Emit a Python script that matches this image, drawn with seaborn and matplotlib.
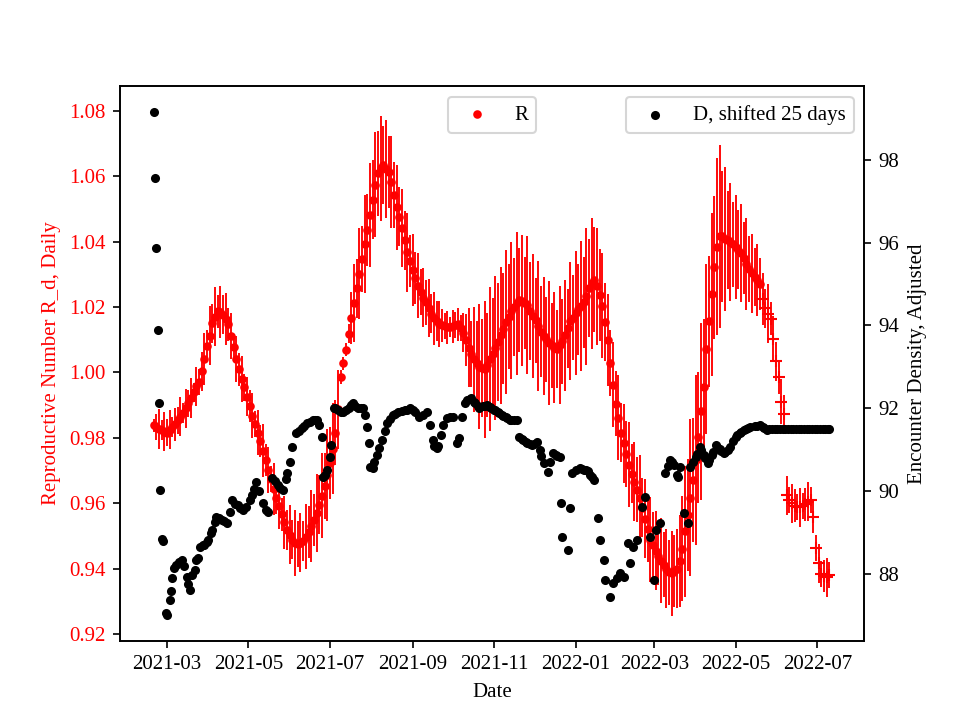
import numpy as np
import pandas as pd
import matplotlib
matplotlib.use("Agg")
import matplotlib.pyplot as plt
import matplotlib.dates as mdates
import seaborn as sns

# ---------------- data ----------------
start_date = "2021-02-19"

# Reproductive number R_d, read every 2 days from start_date
R = [0.9839, 0.9834, 0.9827, 0.9823, 0.9819, 0.9816, 0.9825, 0.9833, 0.9841, 0.9853,
     0.9864, 0.9876, 0.9890, 0.9905, 0.9922, 0.9939, 0.9957, 0.9972, 1.0003, 1.0041,
     1.0081, 1.0112, 1.0150, 1.0171, 1.0187, 1.0184, 1.0177, 1.0163, 1.0147, 1.0111,
     1.0077, 1.0040, 1.0009, 0.9981, 0.9954, 0.9926, 0.9897, 0.9868, 0.9842, 0.9816,
     0.9790, 0.9761, 0.9732, 0.9702, 0.9673, 0.9643, 0.9616, 0.9590, 0.9566, 0.9541,
     0.9518, 0.9503, 0.9488, 0.9478, 0.9475, 0.9479, 0.9484, 0.9498, 0.9512, 0.9529,
     0.9548, 0.9570, 0.9595, 0.9623, 0.9652, 0.9687, 0.9722, 0.9767, 0.9816, 0.9887,
     0.9986, 1.0028, 1.0070, 1.0119, 1.0167, 1.0212, 1.0257, 1.0302, 1.0347, 1.0392,
     1.0436, 1.0482, 1.0529, 1.0574, 1.0610, 1.0624, 1.0635, 1.0623, 1.0612, 1.0583,
     1.0543, 1.0505, 1.0477, 1.0441, 1.0404, 1.0367, 1.0340, 1.0313, 1.0289, 1.0265,
     1.0245, 1.0229, 1.0214, 1.0197, 1.0180, 1.0165, 1.0157, 1.0149, 1.0144, 1.0141,
     1.0138, 1.0139, 1.0141, 1.0144, 1.0147, 1.0135, 1.0122, 1.0099, 1.0076, 1.0056,
     1.0040, 1.0028, 1.0018, 1.0013, 1.0009, 1.0023, 1.0040, 1.0057, 1.0075, 1.0093,
     1.0113, 1.0134, 1.0153, 1.0171, 1.0189, 1.0200, 1.0211, 1.0221, 1.0219, 1.0213,
     1.0206, 1.0189, 1.0173, 1.0159, 1.0142, 1.0125, 1.0111, 1.0101, 1.0091, 1.0083,
     1.0076, 1.0071, 1.0083, 1.0096, 1.0114, 1.0135, 1.0157, 1.0168, 1.0181, 1.0193,
     1.0203, 1.0214, 1.0233, 1.0258, 1.0273, 1.0284, 1.0263, 1.0237, 1.0204, 1.0154,
     1.0099, 1.0029, 0.9963, 0.9904, 0.9862, 0.9816, 0.9783, 0.9751, 0.9718, 0.9690,
     0.9666, 0.9641, 0.9616, 0.9586, 0.9553, 0.9520, 0.9488, 0.9472, 0.9455, 0.9439,
     0.9424, 0.9412, 0.9400, 0.9388, 0.9385, 0.9393, 0.9400, 0.9423, 0.9461, 0.9514,
     0.9564, 0.9616, 0.9672, 0.9732, 0.9801, 0.9881, 0.9954, 1.0072, 1.0156, 1.0239,
     1.0321, 1.0385, 1.0416, 1.0416, 1.0407, 1.0404, 1.0400, 1.0392, 1.0384, 1.0376,
     1.0365, 1.0349, 1.0332, 1.0316, 1.0303, 1.0292, 1.0282, 1.0271, 1.0224, 1.0196,
     1.0180, 1.0164, 1.0103, 1.0034, 0.9985, 0.9911, 0.9872, 0.9624, 0.9611, 0.9600,
     0.9592, 0.9589, 0.9587, 0.9591, 0.9596, 0.9604, 0.9610, 0.9558, 0.9462, 0.9416,
     0.9384, 0.9377, 0.9373, 0.9379]

R_err = [0.002, 0.004, 0.006, 0.003, 0.006, 0.004, 0.006, 0.003, 0.005, 0.004, 0.006, 0.003, 0.006, 0.004, 0.006, 0.003, 0.006, 0.004,
         0.006, 0.008, 0.005, 0.009, 0.006, 0.009, 0.005, 0.008, 0.006, 0.008, 0.005,
         0.007, 0.004, 0.007, 0.005, 0.007, 0.004, 0.006, 0.005, 0.007, 0.004, 0.007, 0.005, 0.008, 0.005, 0.007, 0.004, 0.008, 0.005, 0.007, 0.005, 0.008, 0.006,
         0.009, 0.006, 0.010, 0.007, 0.009, 0.006, 0.010, 0.008, 0.011, 0.008,
         0.012, 0.009, 0.013, 0.010, 0.014, 0.011, 0.014, 0.010, 0.012,
         0.002, 0.002, 0.002, 0.003,
         0.008, 0.012, 0.009, 0.014, 0.010, 0.015, 0.011, 0.016, 0.012, 0.016, 0.013, 0.016, 0.012, 0.015, 0.011,
         0.014, 0.010, 0.013, 0.009, 0.012, 0.009, 0.012, 0.008, 0.011, 0.008, 0.010, 0.007, 0.009, 0.007, 0.009, 0.006, 0.008, 0.006, 0.007,
         0.005, 0.004, 0.005, 0.003, 0.005, 0.004, 0.005, 0.004, 0.006,
         0.008, 0.012, 0.010, 0.016, 0.013, 0.019, 0.015, 0.021, 0.016, 0.022, 0.017, 0.022, 0.018, 0.021, 0.017,
         0.022, 0.016, 0.021, 0.015, 0.022, 0.016, 0.020, 0.014, 0.021, 0.015, 0.019, 0.013, 0.020, 0.014, 0.018, 0.013, 0.019,
         0.013, 0.017, 0.012, 0.018, 0.013, 0.017, 0.012, 0.018, 0.013, 0.019, 0.014, 0.020, 0.014, 0.021, 0.015, 0.020, 0.016,
         0.018, 0.014, 0.016, 0.012, 0.014, 0.010, 0.013, 0.010, 0.013, 0.009, 0.012, 0.010, 0.013, 0.009, 0.012, 0.010,
         0.013, 0.009, 0.012, 0.010, 0.013, 0.010, 0.012, 0.009, 0.013, 0.010, 0.012, 0.010, 0.013, 0.011, 0.012,
         0.014, 0.016, 0.020, 0.017, 0.024, 0.019, 0.026, 0.020, 0.027, 0.021, 0.026, 0.020, 0.025, 0.022, 0.027,
         0.028, 0.020, 0.022, 0.015, 0.018, 0.013, 0.016, 0.012, 0.015, 0.011, 0.014, 0.010, 0.012, 0.009, 0.011, 0.008,
         0.008, 0.006, 0.009, 0.005, 0.007, 0.006, 0.005, 0.007, 0.006,
         0.006, 0.004, 0.006, 0.005, 0.004, 0.006, 0.004, 0.005, 0.006, 0.004, 0.005, 0.004, 0.006, 0.004, 0.005, 0.006, 0.004]

# index from which R is drawn with "+" markers
R_plus_from = 228

# Encounter density D (shifted 25 days): day offsets from start_date and values
D_day = [0, 1, 2, 3, 4, 5, 6, 7, 9, 10,
         12, 13, 14, 15, 17, 19, 21, 23, 25, 26,
         27, 29, 31, 32, 33, 35, 37, 38, 40, 41,
         43, 44, 46, 47, 49, 51, 53, 55, 57, 59,
         61, 63, 65, 67, 69, 72, 74, 75, 77, 79,
         82, 84, 86, 89, 91, 93, 95, 97, 99, 100,
         102, 104, 107, 109, 111, 113, 115, 117, 119, 121,
         122, 124, 126, 127, 128, 130, 132, 133, 135, 136,
         138, 140, 142, 144, 146, 148, 149, 151, 153, 155,
         157, 158, 160, 161, 162, 164, 165, 167, 169, 171,
         173, 175, 177, 179, 181, 183, 186, 188, 190, 192,
         194, 196, 199, 202, 205, 207, 209, 210, 212, 213,
         215, 217, 220, 222, 224, 227, 229, 231, 233, 235,
         237, 238, 240, 241, 243, 244, 247, 248, 250, 252,
         253, 255, 256, 258, 259, 261, 262, 264, 265, 267,
         268, 270, 272, 274, 276, 277, 279, 280, 282, 283,
         285, 287, 289, 290, 292, 295, 297, 299, 301, 302,
         304, 305, 306, 310, 312, 313, 316, 319, 321, 322,
         324, 325, 327, 328, 330, 333, 334, 337, 338, 342,
         344, 347, 349, 352, 355, 357, 359, 362, 366, 368,
         372, 375, 376, 379, 383, 385, 387, 388, 390, 392,
         393, 394, 397, 400, 402, 404, 406, 407, 409, 410,
         412, 413, 415, 416, 418, 419, 421, 422, 424, 425,
         427, 428, 430, 432, 434, 436, 437, 439, 440, 442,
         444, 445, 447, 450, 452, 454, 456, 457, 459, 461,
         463, 465, 467, 469, 471, 473, 475, 477, 479, 481,
         483, 485, 487, 489, 491, 493, 495, 497, 499, 501,
         503, 505, 506]

D = [99.16, 97.57, 95.86, 93.88, 92.14, 90.02, 88.84, 88.80, 87.06, 87.01,
     87.37, 87.60, 87.90, 88.14, 88.22, 88.28, 88.34, 88.20, 87.93, 87.75,
     87.61, 87.98, 88.10, 88.34, 88.40, 88.65, 88.70, 88.70, 88.78, 88.82,
     88.98, 89.06, 89.25, 89.37, 89.35, 89.30, 89.27, 89.23, 89.50, 89.78,
     89.70, 89.66, 89.60, 89.54, 89.62, 89.78, 89.90, 90.05, 90.22, 90.00,
     89.71, 89.55, 89.49, 90.31, 90.25, 90.14, 90.08, 90.02, 90.30, 90.43,
     90.70, 91.06, 91.40, 91.45, 91.52, 91.58, 91.64, 91.67, 91.71, 91.71,
     91.71, 91.60, 91.30, 90.34, 90.40, 90.51, 90.82, 91.11, 92.02, 92.00,
     91.95, 91.92, 91.90, 91.95, 92.00, 92.08, 92.12, 92.05, 92.00, 92.00,
     92.02, 91.85, 91.54, 91.16, 90.58, 90.55, 90.70, 90.87, 91.05, 91.23,
     91.45, 91.64, 91.75, 91.83, 91.87, 91.90, 91.93, 91.95, 91.97, 92.00,
     91.95, 91.90, 91.78, 91.85, 91.90, 91.60, 91.23, 91.10, 91.04, 91.10,
     91.35, 91.59, 91.76, 91.78, 91.78, 91.16, 91.28, 91.80, 92.14, 92.19,
     92.22, 92.24, 92.15, 92.12, 92.05, 92.02, 92.05, 92.06, 92.07, 92.03,
     92.00, 91.97, 91.95, 91.90, 91.88, 91.85, 91.82, 91.78, 91.76, 91.73,
     91.71, 91.71, 91.71, 91.30, 91.25, 91.23, 91.18, 91.16, 91.13, 91.11,
     91.15, 91.18, 91.00, 90.85, 90.67, 90.46, 90.70, 90.92, 90.88, 90.85,
     90.82, 89.71, 88.89, 88.58, 89.59, 90.43, 90.51, 90.55, 90.53, 90.52,
     90.51, 90.48, 90.39, 90.35, 90.27, 89.35, 88.82, 88.34, 87.86, 87.45,
     87.78, 87.90, 88.02, 87.93, 88.75, 88.27, 88.65, 88.82, 89.61, 89.86,
     88.89, 87.86, 89.06, 89.23, 90.43, 90.60, 90.75, 90.70, 90.63, 90.40,
     90.34, 90.58, 89.47, 89.23, 90.58, 90.70, 90.82, 90.90, 91.06, 91.00,
     90.87, 90.80, 90.67, 90.75, 90.87, 90.95, 91.11, 91.06, 91.01, 90.97,
     90.92, 90.95, 90.99, 91.06, 91.20, 91.30, 91.35, 91.40, 91.42, 91.47,
     91.50, 91.52, 91.54, 91.57, 91.58, 91.59, 91.55, 91.52, 91.47, 91.49,
     91.49, 91.49, 91.49, 91.49, 91.49, 91.49, 91.49, 91.49, 91.49, 91.49,
     91.49, 91.49, 91.49, 91.49, 91.49, 91.49, 91.49, 91.49, 91.49, 91.49,
     91.49, 91.49, 91.49]

# ---------------- figure ----------------
plt.rcParams['font.family'] = ['Liberation Serif', 'DejaVu Serif']
plt.rcParams['font.size'] = 10

start = pd.Timestamp(start_date)
r_dates = pd.Series(pd.date_range(start, periods=len(R), freq="2D"))
R_s = pd.Series(R)
d_dates = pd.Series(start + pd.to_timedelta(D_day, unit="D"))
D_s = pd.Series(D)

fig, ax1 = plt.subplots(figsize=(6.4, 4.8), dpi=150)

ax1.errorbar(r_dates, R_s, yerr=R_err, fmt='none', ecolor='red', elinewidth=0.9, zorder=1)
sns.scatterplot(x=r_dates[:R_plus_from], y=R_s[:R_plus_from], color='red', s=17,
                linewidth=0, ax=ax1, label='R', zorder=2)
ax1.scatter(r_dates[R_plus_from:], R_s[R_plus_from:], color='red', marker='+', s=38,
            linewidths=1.0, zorder=2, label='_nolegend_')

ax2 = ax1.twinx()
sns.scatterplot(x=d_dates, y=D_s, color='black', s=19, linewidth=0, ax=ax2,
                label='D, shifted 25 days', zorder=3)

ax1.set_xlim(pd.Timestamp('2021-01-24 20:00'), pd.Timestamp('2022-08-05'))
ax1.set_ylim(0.9179, 1.0875)
ax2.set_ylim(86.39, 99.77)
ax1.set_yticks([0.92, 0.94, 0.96, 0.98, 1.00, 1.02, 1.04, 1.06, 1.08])
ax2.set_yticks([88, 90, 92, 94, 96, 98])

ax1.xaxis.set_major_locator(mdates.MonthLocator(bymonth=[1, 3, 5, 7, 9, 11]))
ax1.xaxis.set_major_formatter(mdates.DateFormatter('%Y-%m'))

ax1.set_xlabel('Date')
ax1.set_ylabel('Reproductive Number R_d, Daily', color='red')
ax1.tick_params(axis='y', labelcolor='red')
ax2.set_ylabel('Encounter Density, Adjusted', color='black')
ax2.set_xlabel('')

ax1.legend(loc='upper center')
ax2.legend(loc='upper right')

fig.savefig('out.png', dpi=150)
